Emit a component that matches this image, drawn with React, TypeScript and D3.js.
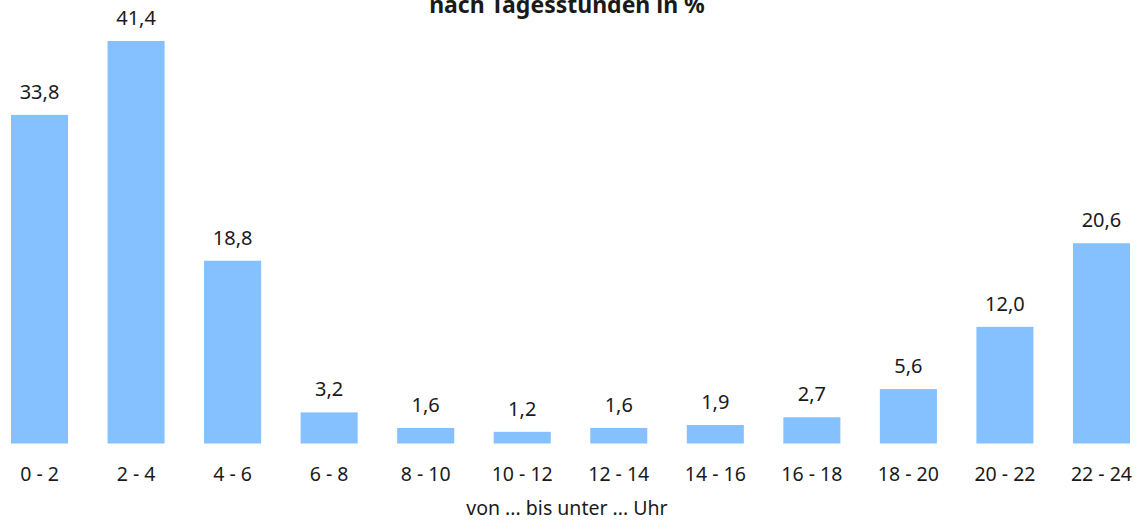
import React from "react";
import * as d3 from "d3";

const categories = ["0 - 2", "2 - 4", "4 - 6", "6 - 8", "8 - 10", "10 - 12", "12 - 14", "14 - 16", "16 - 18", "18 - 20", "20 - 22", "22 - 24"];
const values = [33.8, 41.4, 18.8, 3.2, 1.6, 1.2, 1.6, 1.9, 2.7, 5.6, 12.0, 20.6];
const title = "nach Tagesstunden in %";
const axisTitle = "von ... bis unter ... Uhr";

const W = 1142;
const H = 521;
const FONT = "'Noto Sans', 'Open Sans', sans-serif";

export default function App() {
  const x = d3.scaleBand<string>().domain(categories).range([11, 1130]).paddingInner(0.409).paddingOuter(0);
  const y = d3.scaleLinear().domain([0, 41.4]).range([443.5, 41]);
  const fmt = (v: number) => d3.format(".1f")(v).replace(".", ",");
  return (
    <svg width={W} height={H} style={{ position: "absolute", left: 0, top: 0, background: "#fff" }} fontFamily={FONT}>
      <text x={567} y={12.5} textAnchor="middle" fontSize={23} fontWeight="bold" fill="#1a1a1a">{title}</text>
      {categories.map((c, i) => {
        const bx = x(c)!;
        const bw = x.bandwidth();
        const top = y(values[i]);
        return (
          <g key={c}>
            <rect x={bx} y={top} width={bw} height={y(0) - top} fill="#86C1FF" />
            <text x={bx + bw / 2} y={top - 16} textAnchor="middle" fontSize={20} fill="#1a1a1a">{fmt(values[i])}</text>
            <text x={bx + bw / 2} y={481} textAnchor="middle" fontSize={19.5} fill="#1a1a1a">{c}</text>
          </g>
        );
      })}
      <text x={567} y={515} textAnchor="middle" fontSize={19.5} fill="#1a1a1a">{axisTitle}</text>
    </svg>
  );
}
